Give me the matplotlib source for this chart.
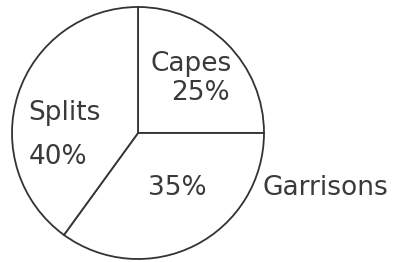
import matplotlib
matplotlib.use("Agg")
import matplotlib.pyplot as plt

categories = ["Capes", "Garrisons", "Splits"]
values = [25, 35, 40]

W, H = 403, 262
fig = plt.figure(figsize=(W / 100, H / 100), dpi=100)
ax = fig.add_axes([0, 0, 1, 1])
ax.set_xlim(0, W)
ax.set_ylim(0, H)
ax.set_aspect("equal")
ax.axis("off")

cx, cy, r = 138, H - 133, 126
ax.pie(values, startangle=90, counterclock=False, center=(cx, cy), radius=r,
       colors=["white"] * 3,
       wedgeprops=dict(edgecolor="#333333", linewidth=1.3))
ax.set_xlim(0, W)
ax.set_ylim(0, H)

tc = "#3a3a3a"
fs = 19
font = dict(family="DejaVu Sans", fontsize=fs, color=tc)
ax.text(191, H - 64, categories[0], ha="center", va="center", **font)
ax.text(200, H - 93, f"{values[0]}%", ha="center", va="center", **font)
ax.text(177, H - 188, f"{values[1]}%", ha="center", va="center", **font)
ax.text(263, H - 188, categories[1], ha="left", va="center", **font)
ax.text(64, H - 113, categories[2], ha="center", va="center", **font)
ax.text(58, H - 157, f"{values[2]}%", ha="center", va="center", **font)

fig.savefig("out.png", dpi=100, facecolor="white")
